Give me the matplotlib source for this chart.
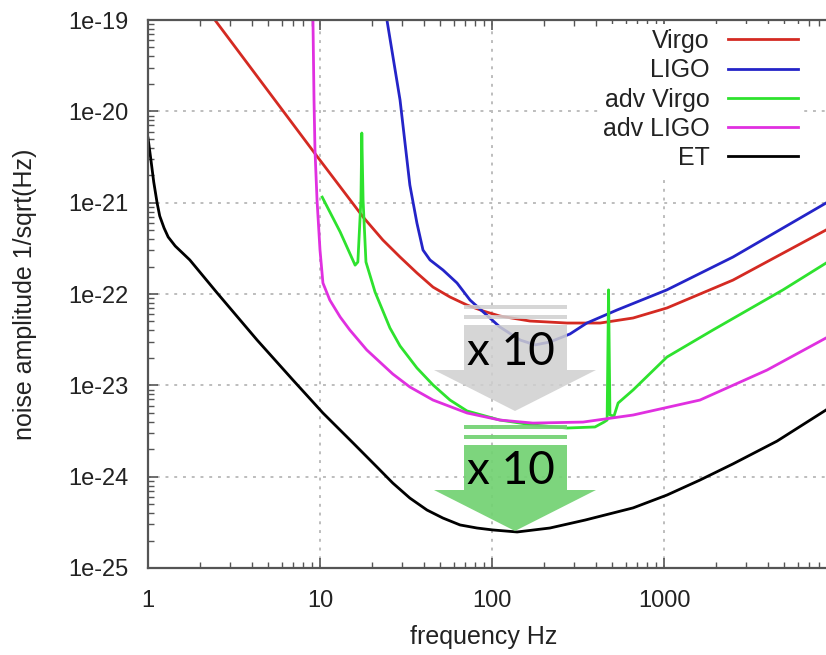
import matplotlib
matplotlib.use("Agg")
import matplotlib.pyplot as plt
from matplotlib.patches import Rectangle, Polygon
from matplotlib.ticker import LogLocator, NullFormatter

plt.rcParams['font.family'] = ['Liberation Sans', 'DejaVu Sans']

# noise curves (frequency in Hz, amplitude in 1/sqrt(Hz))
virgo_f = [2.45, 9.48, 17.8, 23.2, 29.2, 36.6, 45.4, 57.0, 71.6, 88.7, 111, 166, 273, 425,
           661, 1040, 2518, 8750]
virgo_h = [1.0e-19, 3.33e-21, 6.97e-22, 3.90e-22, 2.54e-22, 1.70e-22, 1.19e-22, 9.27e-23,
           7.57e-23, 6.52e-23, 5.74e-23, 5.06e-23, 4.81e-23, 4.81e-23, 5.46e-23, 7.03e-23,
           1.42e-22, 5.02e-22]

ligo_f = [24.5, 29.2, 33.3, 36.6, 39.7, 43.6, 51.9, 62.6, 74.5, 111, 146, 178, 217, 284,
          356, 533, 1040, 2518, 8750]
ligo_h = [1.0e-19, 1.33e-20, 1.56e-21, 5.98e-22, 3.03e-22, 2.36e-22, 1.83e-22, 1.32e-22,
          8.59e-23, 4.36e-23, 3.13e-23, 2.77e-23, 2.98e-23, 3.65e-23, 4.81e-23, 6.68e-23,
          1.11e-22, 2.54e-22, 9.91e-22]

advvirgo_f = [10.3, 13.1, 16.0, 16.6, 17.3, 17.5, 17.8, 18.5, 20.9, 25.5, 29.2, 36.6, 45.4,
              57.0, 71.6, 111, 173, 273, 397, 448, 467, 476, 485, 512, 541, 661, 1040, 1928,
              4920, 8750]
advvirgo_h = [1.15e-21, 4.78e-22, 2.07e-22, 2.24e-22, 1.07e-21, 5.79e-21, 1.07e-21, 2.24e-22,
              1.05e-22, 4.25e-23, 2.70e-23, 1.55e-23, 1.01e-23, 6.90e-24, 5.24e-24, 4.17e-24,
              3.68e-24, 3.41e-24, 3.50e-24, 3.96e-24, 4.17e-24, 1.11e-22, 4.73e-24, 4.61e-24,
              6.40e-24, 8.89e-24, 2.04e-23, 4.04e-23, 1.11e-22, 2.18e-22]

advligo_f = [9.10, 9.23, 9.35, 9.61, 10.0, 10.4, 11.4, 13.1, 14.9, 18.7, 26.5, 33.3, 45.4,
             71.6, 111, 173, 338, 661, 1618, 3972, 8750]
advligo_h = [1.0e-19, 1.33e-20, 3.78e-21, 1.07e-21, 3.03e-22, 1.32e-22, 8.59e-23, 5.60e-23,
             4.04e-23, 2.44e-23, 1.33e-23, 9.59e-24, 6.90e-24, 4.98e-24, 4.17e-24, 3.86e-24,
             3.96e-24, 4.73e-24, 6.90e-24, 1.47e-23, 3.30e-23]

et_f = [1.0, 1.04, 1.08, 1.13, 1.17, 1.24, 1.31, 1.44, 1.75, 2.52, 4.31, 6.97, 10.4, 15.6,
        21.4, 26.5, 33.3, 41.9, 51.9, 65.2, 81.8, 101, 140, 217, 348, 661, 1040, 1618, 2518,
        4539, 8750]
et_h = [5.11e-21, 2.93e-21, 1.68e-21, 9.91e-22, 7.14e-22, 5.28e-22, 4.21e-22, 3.35e-22,
        2.36e-22, 1.03e-22, 3.13e-23, 1.14e-23, 4.98e-24, 2.33e-24, 1.28e-24, 8.51e-25,
        5.83e-25, 4.31e-25, 3.52e-25, 2.96e-25, 2.74e-25, 2.61e-25, 2.48e-25, 2.74e-25,
        3.35e-25, 4.55e-25, 6.29e-25, 9.18e-25, 1.38e-24, 2.45e-24, 5.37e-24]

labels = ['Virgo', 'LIGO', 'adv Virgo', 'adv LIGO', 'ET']
colors = ['#d42a22', '#2424c8', '#2ee22e', '#e030e0', '#000000']

xticks = [1, 10, 100, 1000]
xtick_labels = ['1', '10', '100', '1000']
yticks = [1e-25, 1e-24, 1e-23, 1e-22, 1e-21, 1e-20, 1e-19]
ytick_labels = ['1e-25', '1e-24', '1e-23', '1e-22', '1e-21', '1e-20', '1e-19']
arrow_text = 'x 10'

W, H = 826, 655
fig = plt.figure(figsize=(W / 100, H / 100), dpi=100)
ax = fig.add_axes([148 / W, 87 / H, 688 / W, 548 / H])

series = [(virgo_f, virgo_h), (ligo_f, ligo_h), (advvirgo_f, advvirgo_h),
          (advligo_f, advligo_h), (et_f, et_h)]
for (f, h), lab, c in zip(series, labels, colors):
    ax.plot(f, h, color=c, lw=2.0, label=lab, solid_joinstyle='round')

ax.set_xscale('log')
ax.set_yscale('log')
ax.set_xlim(1, 1e4)
ax.set_ylim(1e-25, 1e-19)
ax.set_xticks(xticks, xtick_labels)
ax.set_yticks(yticks, ytick_labels)
ax.xaxis.set_minor_locator(LogLocator(base=10, subs=range(2, 10), numticks=20))
ax.yaxis.set_minor_locator(LogLocator(base=10, subs=range(2, 10), numticks=20))
ax.xaxis.set_minor_formatter(NullFormatter())
ax.yaxis.set_minor_formatter(NullFormatter())
ax.tick_params(which='both', direction='in', top=True, right=True, color='#555555')
ax.tick_params(which='major', length=7, width=1.2, labelsize=17, labelcolor='#222222')
ax.tick_params(axis='y', which='major', pad=14)
ax.tick_params(axis='x', which='major', pad=16)
ax.tick_params(which='minor', length=4, width=1.0)
ax.grid(True, which='major', color='#bdbdbd', ls=(0, (1.5, 3)), lw=1.4)
for s in ax.spines.values():
    s.set_color('#555555')
    s.set_linewidth(1.6)

ax.set_xlabel('frequency Hz', fontsize=18, color='#222222')
ax.set_ylabel('noise amplitude 1/sqrt(Hz)', fontsize=18, color='#222222')
ax.xaxis.set_label_coords(0.488, -0.104)
ax.yaxis.set_label_coords(-0.161, 0.5)

leg = ax.legend(loc='upper right', bbox_to_anchor=(803 / W, 1 - 24 / H),
                bbox_transform=fig.transFigure, markerfirst=False, fontsize=18,
                handlelength=2.8, handletextpad=0.72, labelspacing=0.21,
                borderpad=0.2, borderaxespad=0, fancybox=False, framealpha=1)
leg.get_frame().set_edgecolor('none')
for t in leg.get_texts():
    t.set_color('#222222')


def fp(x, y):
    return (x / W, 1 - y / H)


def down_arrow(y0, color, alpha):
    # two thin stripes, a body and a triangular head, in figure pixels
    for ys in (y0, y0 + 10):
        fig.patches.append(Rectangle(fp(464, ys + 4), 103 / W, 4 / H, transform=fig.transFigure,
                                     facecolor=color, edgecolor='none', alpha=alpha))
    fig.patches.append(Rectangle(fp(464, y0 + 65), 103 / W, 45 / H, transform=fig.transFigure,
                                 facecolor=color, edgecolor='none', alpha=alpha))
    fig.patches.append(Polygon([fp(434, y0 + 65), fp(596, y0 + 65), fp(515, y0 + 106)],
                               closed=True, transform=fig.transFigure,
                               facecolor=color, edgecolor='none', alpha=alpha))


down_arrow(305, '#cfcfcf', 0.85)
down_arrow(425, '#72d272', 0.92)
fig.text(511 / W, 1 - 352 / H, arrow_text, fontsize=33, family=['Lato', 'DejaVu Sans'],
         ha='center', va='center', color='black')
fig.text(511 / W, 1 - 471 / H, arrow_text, fontsize=33, family=['Lato', 'DejaVu Sans'],
         ha='center', va='center', color='black')

fig.savefig('out.png', dpi=100)
